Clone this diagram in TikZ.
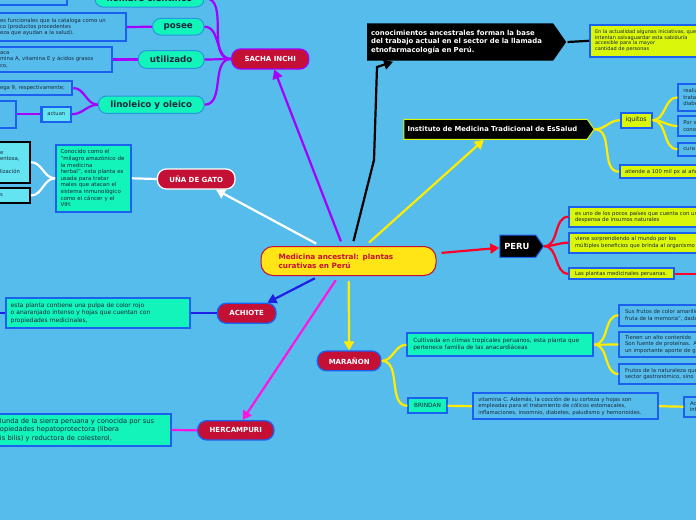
\documentclass[tikz,border=0pt]{standalone}
\usepackage{fontspec}
\setmainfont{DejaVu Sans}
\usepackage{xcolor}
\usepackage{tikz}
\usetikzlibrary{arrows.meta}
\usetikzlibrary{shapes.symbols}

\definecolor{sky}{RGB}{86,188,235}
\definecolor{nodered}{RGB}{196,16,52}
\definecolor{coreyellow}{RGB}{255,228,22}
\definecolor{mint}{RGB}{18,244,186}
\definecolor{lime}{RGB}{218,246,10}
\definecolor{leafblue}{RGB}{28,96,240}
\definecolor{pillline}{RGB}{40,150,220}
\definecolor{purpline}{RGB}{165,0,255}
\definecolor{pinkline}{RGB}{255,20,225}
\definecolor{yelline}{RGB}{255,236,0}
\definecolor{redline}{RGB}{255,0,40}
\definecolor{achblue}{RGB}{30,30,230}
\definecolor{cyanbox}{RGB}{100,228,240}
\definecolor{inkdark}{RGB}{25,40,60}
\newcommand{\leaffont}{\fontsize{5.3}{6.4}\selectfont}

\tikzset{
	core/.style={draw=nodered, fill=coreyellow, rounded corners=12pt, line width=1pt,
		text=nodered, align=left, inner ysep=0pt,
		font=\bfseries\fontsize{7.3}{9}\selectfont},
	plant/.style={draw=#1, fill=nodered, text=white, rounded corners=9pt,
		line width=1.3pt, inner sep=0pt, font=\bfseries\fontsize{7}{8}\selectfont},
	pill/.style={draw=pillline, fill=mint, text=inkdark, rounded corners=8pt,
		line width=1pt, inner sep=0pt, font=\bfseries\fontsize{8.7}{10}\selectfont},
	leaf/.style={draw=leafblue, fill=#1, line width=1.8pt, inner xsep=5pt,
		inner ysep=1pt, align=left, text=inkdark, font=\leaffont},
	leaf/.default=sky,
	flag/.style={signal, signal to=east, signal pointer angle=110, fill=black,
		text=white, align=left, inner ysep=0pt},
	headed/.style={-{Triangle[length=9pt,width=10pt]}},
}

\begin{document}
\begin{tikzpicture}[x=1pt, y=-1pt, line width=2.2pt]
	\useasboundingbox (0,0) rectangle (696,520);
	\fill[sky] (0,0) rectangle (696,520);

	% centre
	\node (medicina) at (348.5,261) [core, minimum width=175pt, minimum height=29pt,
		text width=140pt, inner xsep=17.5pt] {Medicina ancestral: plantas\\curativas en Perú};

	% plants
	\node (sacha) at (270.2,59) [plant=purpline, minimum width=77pt, minimum height=20pt] {SACHA INCHI};
	\node (una) at (196.2,179) [plant=white, minimum width=77.7pt, minimum height=20pt] {UÑA DE GATO};
	\node (achiote) at (246.7,313.3) [plant=leafblue, minimum width=58.7pt, minimum height=20pt] {ACHIOTE};
	\node (hercampuri) at (235.8,430.3) [plant=leafblue, minimum width=76.3pt, minimum height=19.3pt] {HERCAMPURI};
	\node (maranon) at (349.2,360.9) [plant=leafblue, minimum width=63.7pt, minimum height=19.7pt] {MARAÑON};

	% black flags
	\node (conoc) at (366,42) [flag, anchor=west, text width=178pt, inner xsep=4pt,
		minimum height=37.4pt, font=\bfseries\fontsize{6.9}{8.4}\selectfont]
		{conocimientos ancestrales forman la base\\del trabajo actual en el sector de la llamada\\etnofarmacología en Perú.};
	\node (instituto) at (403.3,129.3) [flag, draw=lime, line width=1pt, anchor=west,
		text width=176pt, inner xsep=3.7pt, minimum height=20pt,
		font=\bfseries\fontsize{6.8}{8}\selectfont] {Instituto de Medicina Tradicional de EsSalud};
	\node (peru) at (499.3,246.2) [flag, draw=leafblue, line width=1pt, anchor=west,
		text width=27pt, inner xsep=4.5pt, minimum height=22.3pt,
		font=\bfseries\fontsize{8.4}{9}\selectfont] {PERU};

	% sacha inchi
	\node (nombre) at (149.5,-2) [pill, minimum width=109pt, minimum height=18pt] {nombre científico};
	\node (posee) at (178.3,26.7) [pill, minimum width=51.3pt, minimum height=16.7pt] {posee};
	\node (utilizado) at (171.2,59.5) [pill, minimum width=65.7pt, minimum height=17.6pt] {utilizado};
	\node (linoleico) at (151.2,104.7) [pill, minimum width=105.7pt, minimum height=17.3pt] {linoleico y oleico};

	\node (plukenetia) at (31,-3) [leaf, align=right, text width=62pt, minimum height=16pt] {Plukenetia volubilis};
	\node (funcional) at (60.5,27) [leaf, text width=121pt, minimum height=27.4pt]
		{es funcionales que la cataloga como un\\co (productos procedentes\\eza que ayudan a la salud).};
	\node (vitaminas) at (53.7,59.5) [leaf, text width=107.3pt, minimum height=25.6pt]
		{aca\\mina A, vitamina E y ácidos grasos\\co,};
	\node (omega) at (33.7,88) [leaf, text width=67.3pt, minimum height=14pt] {ega 9, respectivamente;};
	\node (actuan) at (56.3,114.2) [leaf=cyanbox, line width=2.4pt, align=center,
		text width=19.3pt, minimum height=15pt, font=\fontsize{5.2}{6}\selectfont] {actuan};
	\node (organo) at (5.3,114.2) [leaf, text width=10.7pt, minimum height=27pt] {};

	% una de gato
	\node (conocido) at (93.5,178.3) [leaf=mint, inner xsep=4.5pt, text width=66pt,
		minimum height=66.7pt, font=\fontsize{5.5}{6.6}\selectfont]
		{Conocido como el\\“milagro amazónico de\\la medicina\\herbal”, esta planta es\\usada para tratar\\males que atacan el\\sistema inmunológico\\como el cáncer y el\\VIH.};
	\node (defensas) at (12.5,162.2) [leaf=cyanbox, draw=black, text width=25pt, minimum height=41pt]
		{e\\entosa,\\\mbox{}\\lización};
	\node (cancer) at (12.5,195.5) [leaf=cyanbox, draw=black, text width=25pt, minimum height=14.4pt] {s};

	% achiote
	\node (pulpa) at (98,313.3) [leaf=mint, text width=174.6pt, minimum height=30pt,
		font=\fontsize{6}{7.5}\selectfont]
		{esta planta contiene una pulpa de color rojo\\o anaranjado intenso y hojas que cuentan con\\propiedades medicinales,};
	\coordinate (pulpafin) at (-5,313.3);

	% hercampuri
	\node (hepato) at (82.8,430) [leaf=mint, text width=165.7pt, minimum height=32pt,
		font=\fontsize{6.7}{8.3}\selectfont]
		{lunda de la sierra peruana y conocida por sus\\opiedades hepatoprotectora (libera\\is bilis) y reductora de colesterol,};

	% maranon
	\node (cultivada) at (500.3,344.7) [leaf=mint, inner xsep=6pt, text width=174pt,
		minimum height=22.7pt, font=\fontsize{5.8}{6.7}\selectfont]
		{Cultivada en climas tropicales peruanos, esta planta que\\pertenece familia de las anacardiáceas};
	\node (brindan) at (427.5,405.8) [leaf=mint, align=center, text width=28.4pt,
		minimum height=15pt, font=\fontsize{5.8}{6.5}\selectfont] {BRINDAN};
	\node (frutos) at (669.7,315.3) [leaf, inner xsep=5.7pt, text width=89.3pt, minimum height=20.7pt]
		{Sus frutos de color amarillo\\fruta de la memoria”, dada};
	\node (proteinas) at (669.7,344.5) [leaf, inner xsep=5.7pt, text width=89.3pt, minimum height=25.6pt]
		{Tienen un alto contenido\\Son fuente de proteínas. A\\un importante aporte de g};
	\node (gastro) at (669.7,374) [leaf, inner xsep=5.7pt, text width=89.3pt, minimum height=20pt]
		{Frutos de la naturaleza que\\sector gastronómico, sino};
	\node (coccion) at (565.5,406.2) [leaf, inner xsep=5.6pt, text width=174.4pt, minimum height=25.7pt]
		{vitamina C. Además, la cocción de su corteza y hojas son\\empleadas para el tratamiento de cólicos estomacales,\\inflamaciones, insomnio, diabetes, paludismo y hemorroides.};
	\node (acidos) at (702,406.7) [leaf, inner xsep=5.7pt, text width=24pt, minimum height=20pt] {Ac\\inf};

	% peru
	\node (despensa) at (644.7,216.7) [leaf=lime, inner xsep=5.7pt, text width=139.3pt, minimum height=20pt]
		{es uno de los pocos países que cuenta con una\\despensa de insumos naturales};
	\node (beneficios) at (644.7,242.7) [leaf=lime, inner xsep=5.7pt, text width=139.3pt, minimum height=20pt]
		{viene sorprendiendo al mundo por los\\múltiples beneficios que brinda al organismo};
	\node (peruanas) at (621.8,273.8) [leaf=lime, inner xsep=5.7pt, text width=93.6pt, minimum height=11pt]
		{Las plantas medicinales peruanas.};
	\coordinate (peruanasfin) at (700,273.8);

	% instituto
	\node (iquitos) at (636.2,120.2) [leaf=lime, align=center, inner xsep=2pt, text width=27pt,
		minimum height=15pt, font=\fontsize{6.3}{7}\selectfont] {iquitos};
	\node (atiende) at (670,171.7) [leaf=lime, text width=90pt, minimum height=13.3pt]
		{atiende a 100 mil px al año};
	\node (realiza) at (699.2,97.3) [leaf, text width=31.8pt, minimum height=26.7pt] {realiza\\tratamientos\\diabetes};
	\node (porsu) at (699.2,126) [leaf, text width=31.8pt, minimum height=20pt] {Por su\\conocimiento};
	\node (cura) at (699.2,149.3) [leaf, text width=31.8pt, minimum height=13.3pt] {cura};

	% conocimientos
	\node (iniciativas) at (655,40.8) [leaf=lime, text width=120pt, minimum height=31.7pt,
		font=\fontsize{5}{5.6}\selectfont]
		{En la actualidad algunas iniciativas, que\\intentan salvaguardar esta sabiduría\\accesible para la mayor\\cantidad de personas};

	% arrows from the centre
	\draw[purpline, headed, shorten <=5pt] (medicina) -- (sacha);
	\draw[white, headed, shorten <=5pt] (medicina) -- (una);
	\draw[achblue, headed, shorten <=5pt] (medicina) -- (achiote);
	\draw[pinkline, headed, shorten <=5pt] (medicina) -- (hercampuri);
	\draw[yelline, headed, shorten <=5pt] (medicina) -- (maranon);
	\draw[redline, headed, shorten <=5pt] (medicina) -- (peru);
	\draw[yelline, headed, shorten <=5pt] (medicina) -- (instituto);
	\draw[black, headed, shorten <=5pt] (medicina) -- (374,160) -- (377,67)
		-- ([xshift=27pt]conoc.south west);

	% sacha inchi links
	\foreach \leafname in {nombre, posee, utilizado, linoleico}
		\draw[purpline] (sacha.west) to[out=180, in=0] (\leafname.east);
	\draw[purpline] (nombre.west) -- (plukenetia.east);
	\draw[purpline] (posee.west) -- (funcional.east);
	\draw[purpline] (utilizado.west) -- (vitaminas.east);
	\draw[purpline] (linoleico.west) to[out=180, in=0] (omega.east);
	\draw[purpline] (linoleico.west) to[out=180, in=0] (actuan.east);
	\draw[purpline] (actuan.west) -- (organo.east);

	% una de gato links
	\draw[white] (una.west) -- (conocido.east);
	\draw[white] (conocido.west) to[out=180, in=0] (defensas.east);
	\draw[white] (conocido.west) to[out=180, in=0] (cancer.east);

	% achiote and hercampuri links
	\draw[achblue] (achiote.west) -- (pulpa.east);
	\draw[achblue] (pulpa.west) -- (pulpafin);
	\draw[pinkline] (hercampuri.west) -- (hepato.east);

	% maranon links
	\draw[yelline] (maranon.east) to[out=0, in=180] (cultivada.west);
	\draw[yelline] (maranon.east) to[out=0, in=180] (brindan.west);
	\foreach \leafname in {frutos, proteinas, gastro}
		\draw[yelline] (cultivada.east) to[out=0, in=180] (\leafname.west);
	\draw[yelline] (brindan.east) -- (coccion.west);
	\draw[yelline] (coccion.east) -- (acidos.west);

	% peru links
	\foreach \leafname in {despensa, beneficios, peruanas}
		\draw[redline] (peru.east) to[out=0, in=180] (\leafname.west);
	\draw[redline] (peruanas.east) -- (peruanasfin);

	% instituto links
	\draw[yelline] (instituto.east) to[out=0, in=180] (iquitos.west);
	\draw[yelline] (instituto.east) to[out=0, in=180] (atiende.west);
	\foreach \leafname in {realiza, porsu, cura}
		\draw[yelline] (iquitos.east) to[out=0, in=180] (\leafname.west);

	\draw[black] (conoc.east) -- (iniciativas.west);

\end{tikzpicture}
\end{document}
